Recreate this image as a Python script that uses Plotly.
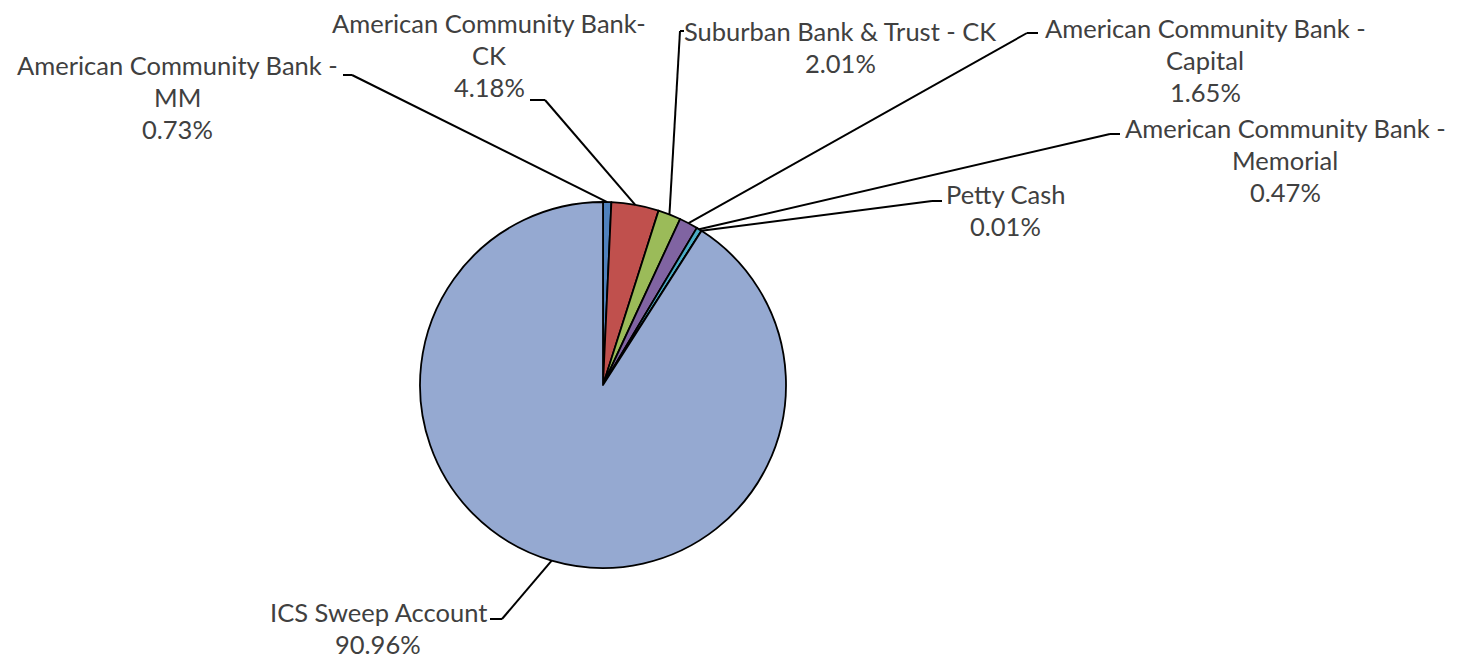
import math
import plotly.graph_objects as go

# ---- data ----
labels = [
    "American Community Bank - MM",
    "American Community Bank- CK",
    "Suburban Bank & Trust - CK",
    "American Community Bank - Capital",
    "American Community Bank - Memorial",
    "Petty Cash",
    "ICS Sweep Account",
]
values = [0.73, 4.18, 2.01, 1.65, 0.47, 0.01, 90.96]
label_lines = [
    ["American Community Bank -", "MM"],
    ["American Community Bank-", "CK"],
    ["Suburban Bank & Trust - CK"],
    ["American Community Bank -", "Capital"],
    ["American Community Bank -", "Memorial"],
    ["Petty Cash"],
    ["ICS Sweep Account"],
]
colors = ["#4F81BD", "#C0504D", "#9BBB59", "#8064A2", "#4BACC6", "#F79646", "#95A9D1"]

# ---- layout (window pixels) ----
W, H = 1462, 658
OFF = 8  # page body margin
CX, CY, R = 603, 385, 183
# label centre x, first line y, elbow point, stub end
label_pos = [
    (177, 65, (352, 75), (343, 75)),
    (489, 23, (545, 100), (530, 100)),
    (840, 31, (680, 31), (684, 31)),
    (1205, 28, (1027, 33), (1038, 33)),
    (1285, 128, (1110, 134), (1120, 134)),
    (1005, 194, (932, 201), (942, 201)),
    (378, 612, (502, 619), (490, 619)),
]
LINE_H = 32
FONT = dict(family="Lato", size=25.5, color="#404040")

fig = go.Figure()
fig.add_trace(go.Pie(
    labels=labels, values=values, sort=False, direction="clockwise", rotation=0,
    marker=dict(colors=colors, line=dict(color="black", width=1.8)),
    textinfo="none", hoverinfo="label+percent", showlegend=False,
    domain=dict(x=[(CX - OFF - R) / W, (CX - OFF + R) / W],
                y=[(H - (CY - OFF) - R) / H, (H - (CY - OFF) + R) / H]),
))

total = sum(values)
cum = 0.0
shapes = []
annotations = []
for i, v in enumerate(values):
    mid = (cum + v / 2) / total * 2 * math.pi
    cum += v
    ex = CX + R * math.sin(mid)
    ey = CY - R * math.cos(mid)
    lx, ly, (bx, by), (sx, sy) = label_pos[i]
    shapes.append(dict(type="line", xref="x", yref="y", x0=ex, y0=ey, x1=bx, y1=by,
                       line=dict(color="black", width=2)))
    shapes.append(dict(type="line", xref="x", yref="y", x0=bx, y0=by, x1=sx, y1=sy,
                       line=dict(color="black", width=2)))
    lines = label_lines[i] + [f"{v:.2f}%"]
    for k, t in enumerate(lines):
        annotations.append(dict(x=lx, y=ly + k * LINE_H, xref="x", yref="y", text=t,
                                showarrow=False, font=FONT, xanchor="center", yanchor="middle"))

fig.update_layout(
    width=W, height=H, margin=dict(l=0, r=0, t=0, b=0),
    paper_bgcolor="white", plot_bgcolor="rgba(0,0,0,0)",
    xaxis=dict(range=[OFF, W + OFF], visible=False, fixedrange=True),
    yaxis=dict(range=[H + OFF, OFF], visible=False, fixedrange=True),
    shapes=shapes, annotations=annotations,
)
fig.write_html("out.html")
